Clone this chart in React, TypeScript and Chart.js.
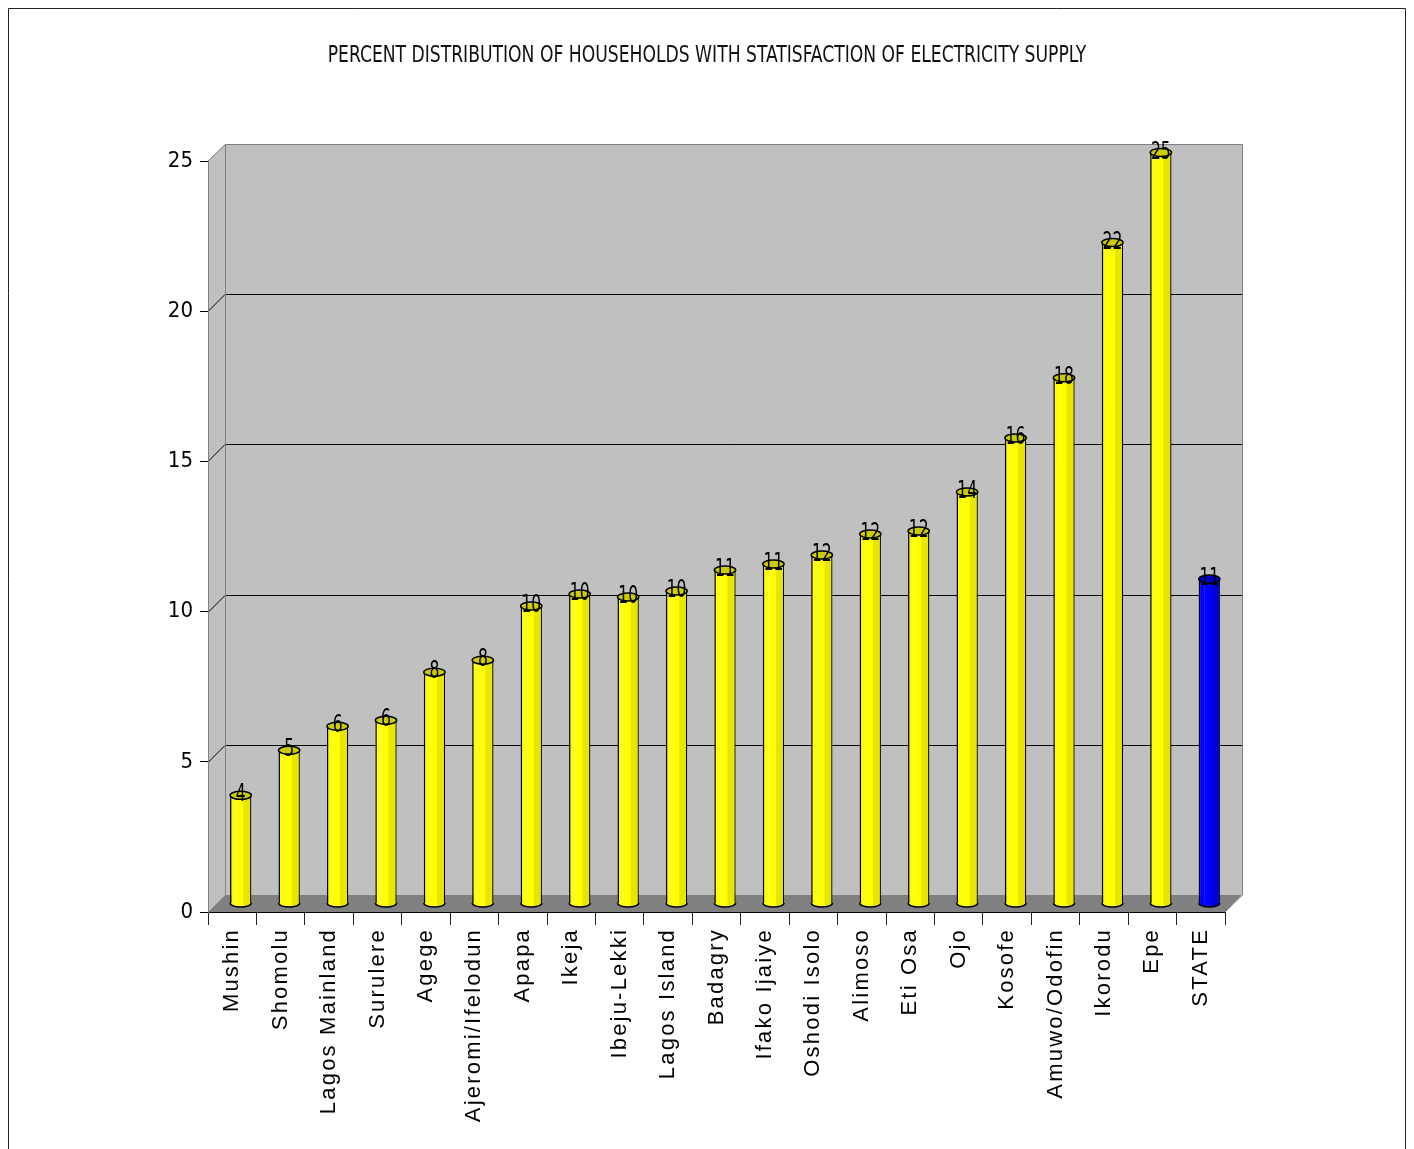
import React, { useEffect, useRef } from 'react';
import { Chart, registerables } from 'chart.js';

Chart.register(...registerables);

const titleText = 'PERCENT DISTRIBUTION OF HOUSEHOLDS WITH STATISFACTION OF ELECTRICITY SUPPLY';
const categories = ['Mushin', 'Shomolu', 'Lagos Mainland', 'Surulere', 'Agege', 'Ajeromi/Ifelodun', 'Apapa', 'Ikeja', 'Ibeju-Lekki', 'Lagos Island', 'Badagry', 'Ifako Ijaiye', 'Oshodi Isolo', 'Alimoso', 'Eti Osa', 'Ojo', 'Kosofe', 'Amuwo/Odofin', 'Ikorodu', 'Epe', 'STATE'];
const values = [3.6, 5.1, 5.9, 6.1, 7.7, 8.1, 9.9, 10.3, 10.2, 10.4, 11.1, 11.3, 11.6, 12.3, 12.4, 13.7, 15.5, 17.5, 22.0, 25.0, 10.8];
const valueLabels = ['4', '5', '6', '6', '8', '8', '10', '10', '10', '10', '11', '11', '12', '12', '12', '14', '16', '18', '22', '25', '11'];
const yTickValues = [0, 5, 10, 15, 20, 25];
const highlightCategory = 'STATE';

const NARROW = "'Liberation Sans Narrow', 'DejaVu Sans Condensed', 'Liberation Sans', sans-serif";
const SANS = "'Liberation Sans', Arial, sans-serif";
const DEPTH = 17;
const SHIFT = 8.5;
const W = 1398;
const H = 1141;

const isHi = (i: number) => categories[i] === highlightCategory;

const pseudo3d = {
  id: 'pseudo3d',
  beforeDraw(chart: any) {
    const { ctx } = chart;
    const { left: L, right: R, top: T, bottom: B } = chart.chartArea;
    const d = DEPTH;
    ctx.save();
    // outer frame
    ctx.strokeStyle = '#222';
    ctx.lineWidth = 1;
    ctx.beginPath();
    ctx.moveTo(0.5, chart.height);
    ctx.lineTo(0.5, 0.5);
    ctx.lineTo(chart.width - 0.5, 0.5);
    ctx.lineTo(chart.width - 0.5, chart.height);
    ctx.stroke();
    // title (horizontally condensed)
    ctx.save();
    ctx.translate(chart.width / 2, 48);
    ctx.scale(0.83, 1);
    ctx.fillStyle = '#111';
    ctx.font = `23px ${NARROW}`;
    ctx.textAlign = 'center';
    ctx.textBaseline = 'middle';
    ctx.fillText(titleText, 0, 0);
    ctx.restore();
    // side wall
    ctx.fillStyle = '#c0c0c0';
    ctx.beginPath();
    ctx.moveTo(L, T);
    ctx.lineTo(L + d, T - d);
    ctx.lineTo(L + d, B - d);
    ctx.lineTo(L, B);
    ctx.closePath();
    ctx.fill();
    // back wall
    ctx.fillRect(L + d, T - d, R - L, B - T);
    // floor
    ctx.fillStyle = '#808080';
    ctx.beginPath();
    ctx.moveTo(L, B);
    ctx.lineTo(R, B);
    ctx.lineTo(R + d, B - d);
    ctx.lineTo(L + d, B - d);
    ctx.closePath();
    ctx.fill();
    // gridlines
    const ys = chart.scales.y;
    ctx.strokeStyle = '#000';
    ctx.lineWidth = 1;
    ys.ticks.forEach((t: any) => {
      if (t.value <= ys.min || t.value >= ys.max) return;
      const py = Math.round(ys.getPixelForValue(t.value)) + 0.5;
      ctx.beginPath();
      ctx.moveTo(L, py);
      ctx.lineTo(L + d, py - d);
      ctx.lineTo(R + d, py - d);
      ctx.stroke();
    });
    // edges
    ctx.strokeStyle = '#808080';
    ctx.beginPath();
    ctx.moveTo(L, T);
    ctx.lineTo(L + d + 0.5, T - d + 0.5);
    ctx.lineTo(R + d + 0.5, T - d + 0.5);
    ctx.lineTo(R + d + 0.5, B - d);
    ctx.lineTo(R, B);
    ctx.moveTo(L + d + 0.5, T - d + 0.5);
    ctx.lineTo(L + d + 0.5, B - d);
    ctx.stroke();
    ctx.restore();
  },
  beforeDatasetsDraw(chart: any) {
    chart.ctx.save();
    chart.ctx.translate(SHIFT, -SHIFT);
  },
  afterDatasetsDraw(chart: any) {
    const { ctx } = chart;
    const meta = chart.getDatasetMeta(0);
    meta.data.forEach((bar: any, i: number) => {
      const { x, y, base, width } = bar.getProps(['x', 'y', 'base', 'width'], true);
      const hw = width / 2;
      const ry = 4;
      const main = isHi(i) ? '#0000ff' : '#ffff00';
      const dark = isHi(i) ? '#0000d8' : '#e6e600';
      const cap = isHi(i) ? '#0000c8' : '#cccc00';
      // shading stripe
      ctx.fillStyle = dark;
      ctx.fillRect(x + width * 0.12, y, hw - width * 0.12 - 1.2, base - y);
      ctx.strokeStyle = isHi(i) ? '#3030ff' : '#f4f4a0';
      ctx.lineWidth = 0.6;
      ctx.beginPath();
      ctx.moveTo(x - width * 0.22, y);
      ctx.lineTo(x - width * 0.22, base);
      ctx.stroke();
      // bottom half ellipse
      ctx.beginPath();
      ctx.ellipse(x, base, hw, ry, 0, 0, Math.PI);
      ctx.fillStyle = main;
      ctx.fill();
      ctx.save();
      ctx.clip();
      ctx.fillStyle = dark;
      ctx.fillRect(x + width * 0.12, base - 1, hw, ry + 2);
      ctx.restore();
      ctx.strokeStyle = '#000';
      ctx.lineWidth = 1.5;
      ctx.beginPath();
      ctx.ellipse(x, base, hw, ry, 0, 0, Math.PI);
      ctx.stroke();
      // top cap
      ctx.beginPath();
      ctx.ellipse(x, y, hw, ry, 0, 0, Math.PI * 2);
      ctx.fillStyle = cap;
      ctx.fill();
      ctx.stroke();
      // label (condensed)
      ctx.save();
      ctx.translate(x, y + 6);
      ctx.scale(0.72, 1);
      ctx.fillStyle = '#000';
      ctx.font = `24px ${NARROW}`;
      ctx.textAlign = 'center';
      ctx.textBaseline = 'alphabetic';
      ctx.fillText(valueLabels[i], 0, 0);
      ctx.restore();
    });
    ctx.restore();
    (ctx as any).letterSpacing = '2.2px';
  },
  afterDraw(chart: any) {
    (chart.ctx as any).letterSpacing = '0px';
  },
};

export default function App() {
  const ref = useRef<HTMLCanvasElement | null>(null);
  useEffect(() => {
    if (!ref.current) return;
    const chart = new Chart(ref.current, {
      type: 'bar',
      data: {
        labels: categories,
        datasets: [
          {
            data: values,
            backgroundColor: categories.map((_, i) => (isHi(i) ? '#0000ff' : '#ffff00')),
            borderColor: '#000',
            borderWidth: 1.5,
            categoryPercentage: 1,
            barPercentage: 0.44,
          },
        ],
      },
      options: {
        animation: false,
        responsive: false,
        devicePixelRatio: 1,
        layout: { padding: { left: 0, right: 181, top: 153, bottom: 0 } },
        plugins: { legend: { display: false }, tooltip: { enabled: false }, title: { display: false } },
        scales: {
          x: {
            offset: true,
            grid: { offset: true, drawOnChartArea: false, drawTicks: true, tickLength: 13, color: '#222', lineWidth: 1 },
            border: { display: true, color: '#000', width: 1 },
            ticks: {
              autoSkip: false,
              minRotation: 90,
              maxRotation: 90,
              padding: 3,
              color: '#000',
              font: { family: SANS, size: 22 },
              z: 1,
            },
            afterFit: (s: any) => {
              s.height = H - 904;
            },
          },
          y: {
            min: 0,
            max: 25,
            afterBuildTicks: (s: any) => {
              s.ticks = yTickValues.map((v) => ({ value: v }));
            },
            grid: { drawOnChartArea: false, drawTicks: true, tickLength: 8, color: '#000' },
            border: { display: true, color: '#808080', width: 1 },
            ticks: { padding: 7, color: '#000', font: { family: NARROW, size: 22 } },
            afterFit: (s: any) => {
              s.width = 200;
            },
          },
        },
      },
      plugins: [pseudo3d],
    } as any);
    return () => chart.destroy();
  }, []);
  return <canvas ref={ref} width={W} height={H} style={{ display: 'block', width: W, height: H }} />;
}
